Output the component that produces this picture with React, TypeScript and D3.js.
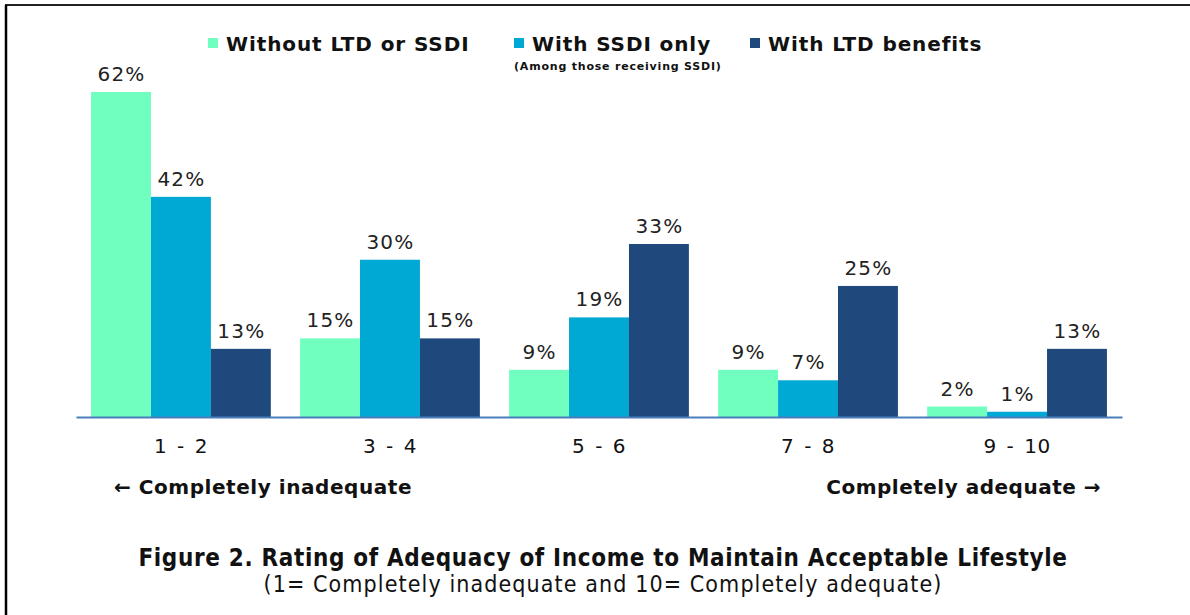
import React, { useEffect, useRef } from 'react';
import * as d3 from 'd3';

const categories = ['1 - 2', '3 - 4', '5 - 6', '7 - 8', '9 - 10'];
const seriesNames = ['Without LTD or SSDI', 'With SSDI only', 'With LTD benefits'];
const withoutLtdOrSsdi = [62, 15, 9, 9, 2];
const withSsdiOnly = [42, 30, 19, 7, 1];
const withLtdBenefits = [13, 15, 33, 25, 13];
const seriesColors = ['#70FFBF', '#00A8D4', '#1F497D'];

const App: React.FC = () => {
  const ref = useRef<SVGSVGElement | null>(null);

  useEffect(() => {
    const svg = d3.select(ref.current);
    svg.selectAll('*').remove();
    const width = 1190;
    const height = 615;
    const font = 'Verdana, "DejaVu Sans", sans-serif';
    const captionFont = '"DejaVu Sans Condensed", "DejaVu Sans", sans-serif';

    const series = [withoutLtdOrSsdi, withSsdiOnly, withLtdBenefits];

    svg.append('rect').attr('width', width).attr('height', height).attr('fill', '#fff');

    // frame: top and left edges only
    svg.append('line').attr('x1', 5).attr('x2', width).attr('y1', 5).attr('y2', 5)
      .attr('stroke', '#222').attr('stroke-width', 2);
    svg.append('line').attr('x1', 6).attr('x2', 6).attr('y1', 5).attr('y2', height)
      .attr('stroke', '#000').attr('stroke-width', 2.5);

    const x0 = d3.scaleBand<string>()
      .domain(categories)
      .range([76, 1122])
      .paddingInner(0.14)
      .paddingOuter(0.072);

    const x1 = d3.scaleBand<number>()
      .domain([0, 1, 2])
      .range([0, x0.bandwidth()]);

    const y = d3.scaleLinear().domain([0, 62]).range([417, 92]);

    const groups = svg.append('g')
      .selectAll('g')
      .data(categories)
      .join('g')
      .attr('transform', d => `translate(${x0(d)},0)`);

    groups.selectAll('rect')
      .data((_, i) => series.map((s, k) => ({ k, v: s[i] })))
      .join('rect')
      .attr('x', d => x1(d.k) as number)
      .attr('y', d => y(d.v))
      .attr('width', x1.bandwidth())
      .attr('height', d => y(0) - y(d.v))
      .attr('fill', d => seriesColors[d.k]);

    groups.selectAll('text')
      .data((_, i) => series.map((s, k) => ({ k, v: s[i] })))
      .join('text')
      .attr('x', d => (x1(d.k) as number) + x1.bandwidth() / 2 + 0.5)
      .attr('y', d => y(d.v) - 11)
      .attr('text-anchor', 'middle')
      .attr('font-family', font)
      .attr('font-size', 20)
      .attr('letter-spacing', 1.2)
      .attr('fill', '#222')
      .text(d => `${d.v}%`);

    // baseline axis
    const axis = svg.append('g')
      .attr('transform', `translate(0,${y(0)})`)
      .call(d3.axisBottom(x0).tickSize(0).tickPadding(22));
    axis.select('.domain').attr('stroke', '#4A7EBB').attr('stroke-width', 2);
    axis.selectAll('text')
      .attr('font-family', font)
      .attr('font-size', 20)
      .attr('word-spacing', 3)
      .attr('letter-spacing', 0.5)
      .attr('fill', '#111');

    // legend
    const legendX = [208, 514, 750];
    const legend = svg.append('g')
      .selectAll('g')
      .data(seriesNames)
      .join('g')
      .attr('transform', (_, i) => `translate(${legendX[i]},0)`);
    legend.append('rect')
      .attr('x', 0).attr('y', 38).attr('width', 10).attr('height', 10)
      .attr('fill', (_, i) => seriesColors[i]);
    legend.append('text')
      .attr('x', 18).attr('y', 51)
      .attr('font-family', font)
      .attr('font-weight', 'bold')
      .attr('font-size', 20)
      .attr('letter-spacing', 0.9)
      .attr('fill', '#111')
      .text(d => d);
    svg.append('text')
      .attr('x', 514).attr('y', 70)
      .attr('font-family', font)
      .attr('font-weight', 'bold')
      .attr('font-size', 11)
      .attr('letter-spacing', 0.8)
      .attr('fill', '#111')
      .text('(Among those receiving SSDI)');

    // end labels
    svg.append('text')
      .attr('x', 114).attr('y', 494)
      .attr('font-family', font).attr('font-weight', 'bold').attr('font-size', 20)
      .attr('letter-spacing', 0.55)
      .attr('fill', '#111')
      .text('\u2190 Completely inadequate');
    svg.append('text')
      .attr('x', 1101).attr('y', 494)
      .attr('text-anchor', 'end')
      .attr('font-family', font).attr('font-weight', 'bold').attr('font-size', 20)
      .attr('letter-spacing', 0.5)
      .attr('fill', '#111')
      .text('Completely adequate \u2192');

    // caption
    svg.append('text')
      .attr('x', 603).attr('y', 566)
      .attr('text-anchor', 'middle')
      .attr('font-family', captionFont)
      .attr('font-weight', 'bold').attr('font-size', 24)
      .attr('letter-spacing', 0.65)
      .attr('fill', '#111')
      .text('Figure 2. Rating of Adequacy of Income to Maintain Acceptable Lifestyle');
    svg.append('text')
      .attr('x', 603).attr('y', 592)
      .attr('text-anchor', 'middle')
      .attr('font-family', captionFont)
      .attr('font-size', 23)
      .attr('letter-spacing', 1.1)
      .attr('fill', '#111')
      .text('(1= Completely inadequate and 10= Completely adequate)');
  }, []);

  return (
    <svg
      ref={ref}
      width={1190}
      height={615}
      style={{ position: 'absolute', left: 0, top: 0 }}
    />
  );
};

export default App;
